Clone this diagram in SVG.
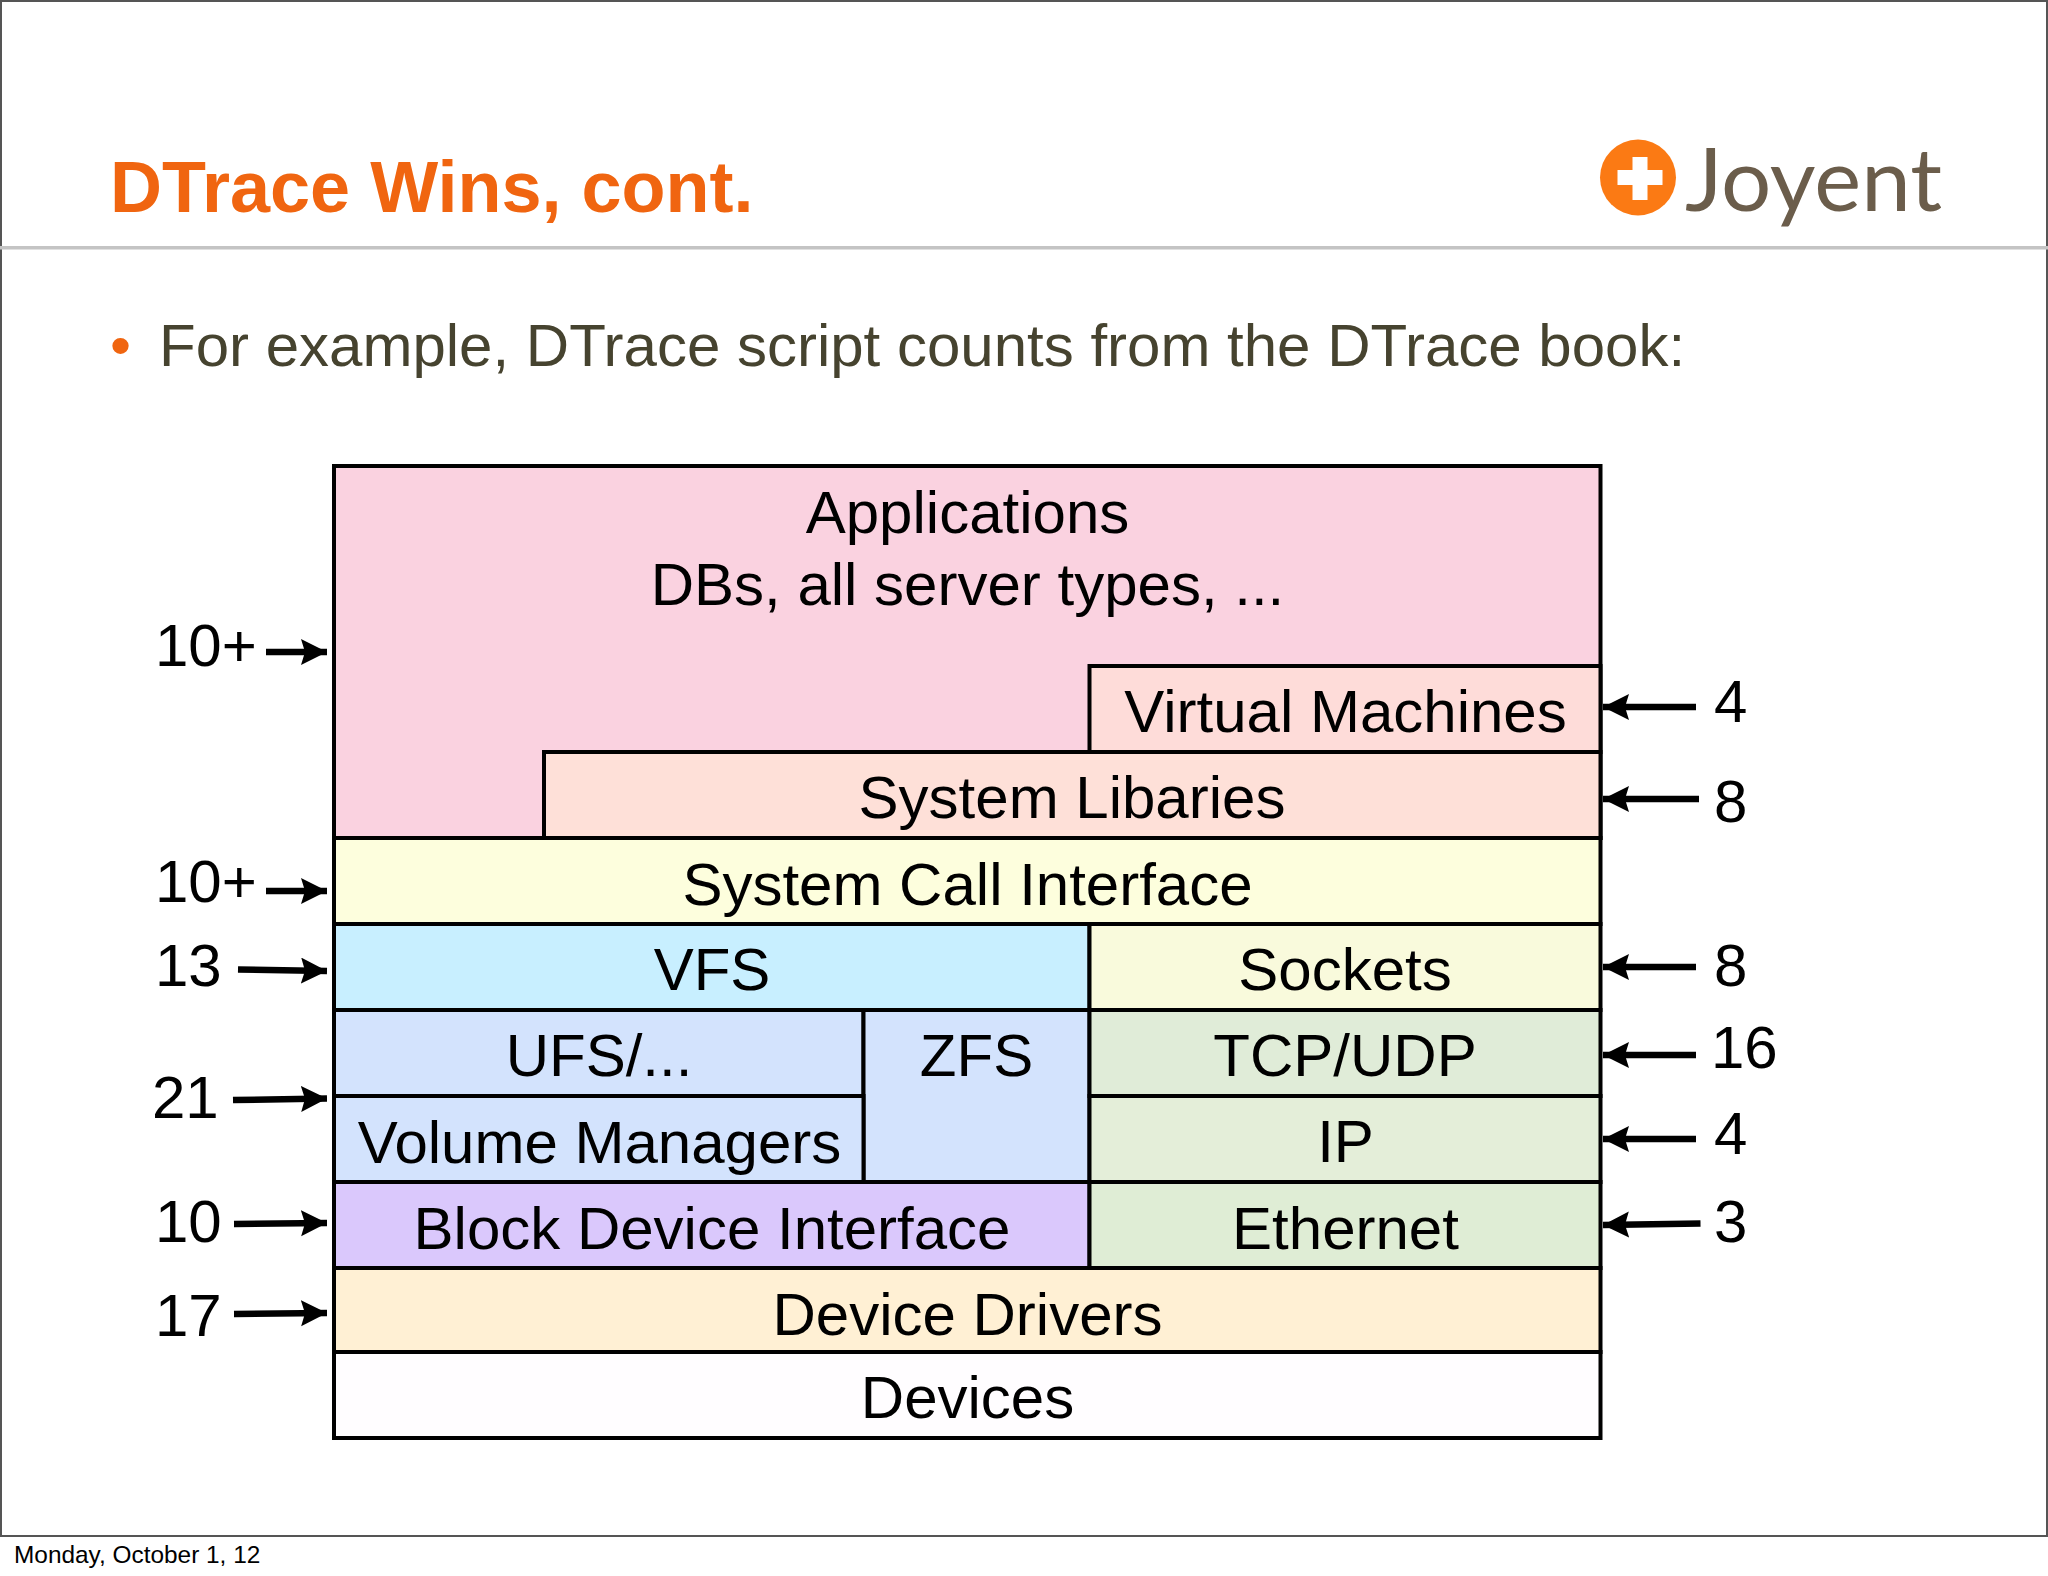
<svg xmlns="http://www.w3.org/2000/svg" width="2048" height="1576" viewBox="0 0 2048 1576">
<style>
text{font-family:"Liberation Sans",Arial,sans-serif}
.b{stroke:#000;stroke-width:4}
.l{font-size:60px;fill:#000;text-anchor:middle}
.n{font-size:60px;fill:#000}
.a{fill:none;stroke:#000;stroke-width:6.5;marker-end:url(#h)}
</style>
<defs><marker id="h" markerUnits="userSpaceOnUse" markerWidth="30" markerHeight="28" refX="26" refY="13" orient="auto"><path d="M0 0L26 13L0 26L4 13Z" fill="#000"/></marker></defs>
<rect width="2048" height="1576" fill="#fff"/>
<path d="M1 1536V1H2047V1536M0 1536H2048" fill="none" stroke="#555" stroke-width="2"/>
<rect x="0" y="246" width="2048" height="3.5" fill="#c4c4c4"/>
<text x="110" y="212" font-size="72" font-weight="700" fill="#f06510">DTrace Wins, cont.</text>
<g id="logo"><circle cx="1638" cy="177.500" r="38" fill="#fb7a14"/><path d="M1617.500 170h15v-13h15v13h15v15h-15v15h-15v-15h-15z" fill="#fff"/><text x="1685" y="211" font-size="88" fill="#6b5d4b" style="font-family:Lato,sans-serif" textLength="257" lengthAdjust="spacingAndGlyphs">Joyent</text></g>
<text x="110" y="366" font-size="60" fill="#f06510">•</text>
<text x="159" y="366" font-size="60" fill="#46432f">For example, DTrace script counts from the DTrace book:</text>
<g id="applications"><rect class="b" x="334" y="466" width="1266.500" height="372" fill="#fad2e0"/><text class="l" x="967.500" y="533">Applications</text><text class="l" x="967.500" y="605">DBs, all server types, ...</text></g>
<g id="vm"><rect class="b" x="1089.500" y="666" width="511" height="86" fill="#fedcd9"/><text class="l" x="1345.500" y="732">Virtual Machines</text></g>
<g id="syslib"><rect class="b" x="544" y="752" width="1056.500" height="86" fill="#fee0d8"/><text class="l" x="1072" y="818">System Libaries</text></g>
<g id="syscall"><rect class="b" x="334" y="838" width="1266.500" height="86" fill="#fdfedd"/><text class="l" x="967.500" y="905">System Call Interface</text></g>
<g id="vfs"><rect class="b" x="334" y="924" width="755.500" height="86" fill="#c8efff"/><text class="l" x="712" y="990">VFS</text></g>
<g id="sockets"><rect class="b" x="1089.500" y="924" width="511" height="86" fill="#f9fadc"/><text class="l" x="1345" y="990">Sockets</text></g>
<g id="ufs"><rect class="b" x="334" y="1010" width="529.500" height="86" fill="#d3e3fd"/><text class="l" x="599" y="1076">UFS/...</text></g>
<g id="zfs"><rect class="b" x="863.500" y="1010" width="226" height="172" fill="#d3e3fd"/><text class="l" x="976.500" y="1076">ZFS</text></g>
<g id="tcp"><rect class="b" x="1089.500" y="1010" width="511" height="86" fill="#e0ecd8"/><text class="l" x="1345" y="1076">TCP/UDP</text></g>
<g id="volume"><rect class="b" x="334" y="1096" width="529.500" height="86" fill="#d3e3fd"/><text class="l" x="599.500" y="1163">Volume Managers</text></g>
<g id="ip"><rect class="b" x="1089.500" y="1096" width="511" height="86" fill="#e4eed9"/><text class="l" x="1345.500" y="1162">IP</text></g>
<g id="block"><rect class="b" x="334" y="1182" width="755.500" height="86" fill="#dac8fc"/><text class="l" x="712" y="1249">Block Device Interface</text></g>
<g id="ethernet"><rect class="b" x="1089.500" y="1182" width="511" height="86" fill="#dfedd5"/><text class="l" x="1345.500" y="1249">Ethernet</text></g>
<g id="drivers"><rect class="b" x="334" y="1268" width="1266.500" height="84" fill="#fff0d4"/><text class="l" x="967.500" y="1335">Device Drivers</text></g>
<g id="devices"><rect class="b" x="334" y="1352" width="1266.500" height="86" fill="#fffdff"/><text class="l" x="967.500" y="1418">Devices</text></g>
<g id="counts">
<text class="n" x="155" y="666">10+</text><text class="n" x="155" y="902">10+</text><text class="n" x="155" y="986">13</text><text class="n" x="152" y="1118">21</text><text class="n" x="155" y="1242">10</text><text class="n" x="155" y="1336">17</text>
<text class="n" x="1714" y="722">4</text><text class="n" x="1714" y="822">8</text><text class="n" x="1714" y="986">8</text><text class="n" x="1711" y="1068">16</text><text class="n" x="1714" y="1154">4</text><text class="n" x="1714" y="1242">3</text>
</g>
<g id="connectors">
<path class="a" d="M266 652H327"/><path class="a" d="M266 891H327"/><path class="a" d="M238 969.500L327 971"/><path class="a" d="M233 1100L327 1098.500"/><path class="a" d="M234 1224L327 1223"/><path class="a" d="M234 1314L327 1313"/>
<path class="a" d="M1696 707H1603"/><path class="a" d="M1699 799H1603"/><path class="a" d="M1696 967H1603"/><path class="a" d="M1696 1055H1603"/><path class="a" d="M1696 1139H1603"/><path class="a" d="M1700.500 1223.500L1603 1225"/>
</g>
<text x="14" y="1563" font-size="24.400" fill="#000">Monday, October 1, 12</text>
</svg>
